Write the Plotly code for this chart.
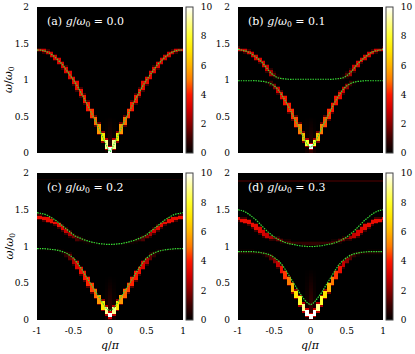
import plotly.graph_objects as go

# ---------------- data ----------------
Q = [-1.0, -0.95, -0.9, -0.85, -0.8, -0.75, -0.7, -0.65, -0.6, -0.55, -0.5,
     -0.45, -0.4, -0.35, -0.3, -0.25, -0.2, -0.15, -0.1, -0.05, 0.0,
     0.05, 0.1, 0.15, 0.2, 0.25, 0.3, 0.35, 0.4, 0.45, 0.5,
     0.55, 0.6, 0.65, 0.7, 0.75, 0.8, 0.85, 0.9, 0.95, 1.0]

# panel (a) g/w0 = 0.0
a_omega = [1.41, 1.41, 1.40, 1.38, 1.35, 1.31, 1.26, 1.21, 1.14, 1.07, 1.00, 0.92, 0.83, 0.74, 0.64, 0.54, 0.44, 0.33, 0.22, 0.11,
           0.02, 0.11, 0.22, 0.33, 0.44, 0.54, 0.64, 0.74, 0.83, 0.92, 1.00, 1.07, 1.14, 1.21, 1.26, 1.31, 1.35, 1.38, 1.40, 1.41, 1.41]
a_int = [3.0, 3.0, 3.0, 3.0, 3.1, 3.1, 3.2, 3.2, 3.3, 3.3, 3.4, 3.5, 3.6, 3.8, 4.0, 4.3, 4.8, 5.5, 7.0, 9.0,
         10.0, 9.0, 7.0, 5.5, 4.8, 4.3, 4.0, 3.8, 3.6, 3.5, 3.4, 3.3, 3.3, 3.2, 3.2, 3.1, 3.1, 3.0, 3.0, 3.0, 3.0]

# panel (b) g/w0 = 0.1
b_lower = [0.99, 0.99, 0.99, 0.99, 0.99, 0.99, 0.985, 0.98, 0.97, 0.95, 0.92, 0.87, 0.80, 0.72, 0.63, 0.53, 0.43, 0.33, 0.22, 0.13,
           0.08, 0.13, 0.22, 0.33, 0.43, 0.53, 0.63, 0.72, 0.80, 0.87, 0.92, 0.95, 0.97, 0.98, 0.985, 0.99, 0.99, 0.99, 0.99, 0.99, 0.99]
b_upper = [1.42, 1.41, 1.40, 1.38, 1.35, 1.31, 1.27, 1.22, 1.16, 1.10, 1.06, 1.03, 1.02, 1.015, 1.01, 1.01, 1.01, 1.01, 1.01, 1.01,
           1.01, 1.01, 1.01, 1.01, 1.01, 1.01, 1.01, 1.015, 1.02, 1.03, 1.06, 1.10, 1.16, 1.22, 1.27, 1.31, 1.35, 1.38, 1.40, 1.41, 1.42]
b_lower_int = [0, 0, 0, 0, 0, 0, 0, 0.1, 0.4, 1.0, 2.0, 3.0, 3.5, 3.8, 4.0, 4.2, 4.5, 5, 6, 8,
               10, 8, 6, 5, 4.5, 4.2, 4.0, 3.8, 3.5, 3.0, 2.0, 1.0, 0.4, 0.1, 0, 0, 0, 0, 0, 0, 0]
b_upper_int = [3.0, 3.0, 3.0, 3.1, 3.1, 3.2, 3.2, 3.2, 3.0, 2.4, 1.4, 0.6, 0.2, 0.05, 0, 0, 0, 0, 0, 0,
               0, 0, 0, 0, 0, 0, 0, 0.05, 0.2, 0.6, 1.4, 2.4, 3.0, 3.2, 3.2, 3.2, 3.1, 3.1, 3.0, 3.0, 3.0]

# panel (c) g/w0 = 0.2
c_green_lower = [0.97, 0.97, 0.97, 0.965, 0.96, 0.955, 0.945, 0.93, 0.91, 0.88, 0.84, 0.78, 0.71, 0.63, 0.55, 0.47, 0.39, 0.31, 0.23, 0.16,
                 0.13, 0.16, 0.23, 0.31, 0.39, 0.47, 0.55, 0.63, 0.71, 0.78, 0.84, 0.88, 0.91, 0.93, 0.945, 0.955, 0.96, 0.965, 0.97, 0.97, 0.97]
c_green_upper = [1.46, 1.45, 1.44, 1.42, 1.39, 1.36, 1.32, 1.28, 1.24, 1.20, 1.16, 1.13, 1.11, 1.09, 1.075, 1.06, 1.05, 1.04, 1.035, 1.03,
                 1.03, 1.03, 1.035, 1.04, 1.05, 1.06, 1.075, 1.09, 1.11, 1.13, 1.16, 1.20, 1.24, 1.28, 1.32, 1.36, 1.39, 1.42, 1.44, 1.45, 1.46]
c_red_lower = [0.97, 0.97, 0.965, 0.96, 0.955, 0.95, 0.94, 0.92, 0.90, 0.86, 0.81, 0.75, 0.68, 0.60, 0.52, 0.44, 0.36, 0.28, 0.20, 0.12,
               0.06, 0.12, 0.20, 0.28, 0.36, 0.44, 0.52, 0.60, 0.68, 0.75, 0.81, 0.86, 0.90, 0.92, 0.94, 0.95, 0.955, 0.96, 0.965, 0.97, 0.97]
c_red_upper = [1.40, 1.40, 1.39, 1.37, 1.35, 1.32, 1.29, 1.25, 1.21, 1.17, 1.14, 1.11, 1.09, 1.075, 1.06, 1.05, 1.04, 1.035, 1.03, 1.03,
               1.03, 1.03, 1.03, 1.035, 1.04, 1.05, 1.06, 1.075, 1.09, 1.11, 1.14, 1.17, 1.21, 1.25, 1.29, 1.32, 1.35, 1.37, 1.39, 1.40, 1.40]
c_lower_int = [0.1, 0.1, 0.1, 0.1, 0.1, 0.1, 0.2, 0.4, 0.8, 1.5, 2.5, 3.2, 3.6, 3.9, 4.1, 4.4, 4.8, 5.5, 7, 9,
               10, 9, 7, 5.5, 4.8, 4.4, 4.1, 3.9, 3.6, 3.2, 2.5, 1.5, 0.8, 0.4, 0.2, 0.1, 0.1, 0.1, 0.1, 0.1, 0.1]
c_upper_int = [3.5, 3.5, 3.5, 3.5, 3.5, 3.5, 3.4, 3.2, 2.9, 2.4, 1.8, 1.2, 0.8, 0.5, 0.3, 0.2, 0.15, 0.1, 0.1, 0.1,
               0.1, 0.1, 0.1, 0.1, 0.15, 0.2, 0.3, 0.5, 0.8, 1.2, 1.8, 2.4, 2.9, 3.2, 3.4, 3.5, 3.5, 3.5, 3.5, 3.5, 3.5]
c_top_omega, c_top_int = 1.91, 0.3

# panel (d) g/w0 = 0.3
d_green_lower = [0.93, 0.93, 0.93, 0.93, 0.93, 0.925, 0.92, 0.91, 0.90, 0.88, 0.85, 0.81, 0.76, 0.69, 0.61, 0.53, 0.45, 0.37, 0.30, 0.24,
                 0.21, 0.24, 0.30, 0.37, 0.45, 0.53, 0.61, 0.69, 0.76, 0.81, 0.85, 0.88, 0.90, 0.91, 0.92, 0.925, 0.93, 0.93, 0.93, 0.93, 0.93]
d_green_upper = [1.50, 1.49, 1.47, 1.44, 1.40, 1.36, 1.31, 1.26, 1.21, 1.17, 1.13, 1.10, 1.075, 1.055, 1.04, 1.03, 1.02, 1.01, 1.005, 1.00,
                 1.00, 1.00, 1.005, 1.01, 1.02, 1.03, 1.04, 1.055, 1.075, 1.10, 1.13, 1.17, 1.21, 1.26, 1.31, 1.36, 1.40, 1.44, 1.47, 1.49, 1.50]
d_red_lower = [0.92, 0.92, 0.92, 0.92, 0.92, 0.915, 0.91, 0.90, 0.88, 0.85, 0.81, 0.76, 0.69, 0.61, 0.53, 0.44, 0.35, 0.26, 0.17, 0.09,
               0.04, 0.09, 0.17, 0.26, 0.35, 0.44, 0.53, 0.61, 0.69, 0.76, 0.81, 0.85, 0.88, 0.90, 0.91, 0.915, 0.92, 0.92, 0.92, 0.92, 0.92]
d_red_upper = [1.38, 1.37, 1.35, 1.33, 1.30, 1.26, 1.22, 1.18, 1.14, 1.12, 1.11, 1.095, 1.08, 1.07, 1.06, 1.055, 1.05, 1.045, 1.04, 1.04,
               1.04, 1.04, 1.04, 1.045, 1.05, 1.055, 1.06, 1.07, 1.08, 1.095, 1.11, 1.12, 1.14, 1.18, 1.22, 1.26, 1.30, 1.33, 1.35, 1.37, 1.38]
d_lower_int = [0.4, 0.4, 0.4, 0.4, 0.4, 0.4, 0.5, 0.6, 0.8, 1.3, 2.0, 2.8, 3.6, 4.3, 5, 6, 7, 8, 9, 10,
               10, 10, 9, 8, 7, 6, 5, 4.3, 3.6, 2.8, 2.0, 1.3, 0.8, 0.6, 0.5, 0.4, 0.4, 0.4, 0.4, 0.4, 0.4]
d_upper_int = [3.5, 3.5, 3.5, 3.5, 3.5, 3.4, 3.3, 3.1, 2.8, 2.4, 2.0, 1.6, 1.3, 1.1, 1.0, 0.9, 0.8, 0.8, 0.8, 0.8,
               0.8, 0.8, 0.8, 0.8, 0.8, 0.9, 1.0, 1.1, 1.3, 1.6, 2.0, 2.4, 2.8, 3.1, 3.3, 3.4, 3.5, 3.5, 3.5, 3.5, 3.5]
d_top_omega, d_top_int = 1.89, 0.7

# faint spectral weight above q = 0 (height, intensity)
glow = {"a": (0.5, 0.8), "b": (0.5, 0.8), "c": (0.6, 1.0), "d": (0.7, 1.2)}

panel_labels = ["(a)", "(b)", "(c)", "(d)"]
g_values = ["0.0", "0.1", "0.2", "0.3"]
x_ticks = [-1, -0.5, 0, 0.5, 1]
x_ticktext = ["-1", "-0.5", "0", "0.5", "1"]
y_ticks = [0, 0.5, 1, 1.5, 2]
y_ticktext = ["0", "0.5", "1", "1.5", "2"]
cb_ticks = [0, 2, 4, 6, 8, 10]

for arr in [a_omega, a_int, b_lower, b_upper, b_lower_int, b_upper_int, c_green_lower, c_green_upper,
            c_red_lower, c_red_upper, c_lower_int, c_upper_int, d_green_lower, d_green_upper,
            d_red_lower, d_red_upper, d_lower_int, d_upper_int]:
    assert len(arr) == len(Q), len(arr)

# ---------------- build heatmap tables ----------------
NROW = 100
W = [0.01 + 0.02 * j for j in range(NROW)]  # omega grid of the map (cell centres)


def empty():
    return [[0.0 for _ in Q] for _ in W]


def paint(Z, omegas, ints):
    n = len(omegas)
    for i in range(n):
        w = omegas[i]
        lo = hi = w
        if i > 0:
            m = (w + omegas[i - 1]) / 2
            lo, hi = min(lo, m), max(hi, m)
        if i < n - 1:
            m = (w + omegas[i + 1]) / 2
            lo, hi = min(lo, m), max(hi, m)
        for j, y in enumerate(W):
            if lo - 0.011 <= y <= hi + 0.011:
                v = ints[i]
            elif lo - 0.03 <= y <= hi + 0.03:
                v = 0.3 * ints[i]
            else:
                continue
            if v > Z[j][i]:
                Z[j][i] = v


def paint_flat(Z, omega, val):
    for j, y in enumerate(W):
        if abs(y - omega) <= 0.011:
            for i in range(len(Q)):
                Z[j][i] = max(Z[j][i], val)


def paint_glow(Z, key):
    h, val = glow[key]
    i0 = Q.index(0.0)
    for j, y in enumerate(W):
        if y <= h:
            f = val * (1 - y / h)
            for i, k in ((i0, 1.0), (i0 - 1, 0.35), (i0 + 1, 0.35)):
                Z[j][i] = max(Z[j][i], f * k)


Za = empty(); paint_glow(Za, "a"); paint(Za, a_omega, a_int)
Zb = empty(); paint_glow(Zb, "b"); paint(Zb, b_lower, b_lower_int); paint(Zb, b_upper, b_upper_int)
Zc = empty(); paint_glow(Zc, "c"); paint(Zc, c_red_lower, c_lower_int); paint(Zc, c_red_upper, c_upper_int)
paint_flat(Zc, c_top_omega, c_top_int)
Zd = empty(); paint_glow(Zd, "d"); paint(Zd, d_red_lower, d_lower_int); paint(Zd, d_red_upper, d_upper_int)
paint_flat(Zd, d_top_omega, d_top_int)

maps = [Za, Zb, Zc, Zd]
greens = [[a_omega], [b_lower, b_upper], [c_green_lower, c_green_upper], [d_green_lower, d_green_upper]]

# ---------------- figure ----------------
FW, FH = 415, 354
SERIF = "DejaVu Serif"
colorscale = [[0.0, "#000000"], [0.1, "#3c0000"], [0.2, "#8a0000"], [0.3, "#d20000"],
              [0.4, "#ff1800"], [0.5, "#ff7a00"], [0.6, "#ffb400"], [0.7, "#ffe400"],
              [0.8, "#ffff2a"], [0.9, "#ffff90"], [1.0, "#ffffff"]]

# pixel boxes of the four plot areas: (x0, x1, y0, y1) with y from top
boxes = [(37, 183, 7, 153), (238, 383, 7, 153), (37, 183, 173, 320), (238, 383, 173, 320)]

fig = go.Figure()
layout = dict(width=FW, height=FH, margin=dict(l=0, r=0, t=0, b=0, autoexpand=False),
              paper_bgcolor="white", plot_bgcolor="black", showlegend=False,
              font=dict(family=SERIF, size=9, color="black"))
annotations = []

for k in range(4):
    x0, x1, y0, y1 = boxes[k]
    sx = "" if k == 0 else str(k + 1)
    xa, ya, ca = "x" + sx, "y" + sx, "coloraxis" + sx
    fig.add_trace(go.Heatmap(x=Q, y=W, z=maps[k], coloraxis=ca, xaxis=xa, yaxis=ya,
                             hoverinfo="skip"))
    for gline in greens[k]:
        fig.add_trace(go.Scatter(x=Q, y=gline, mode="lines", xaxis=xa, yaxis=ya,
                                 line=dict(color="#35dc35", width=1.2, dash="1.5px,1px", shape="spline"),
                                 hoverinfo="skip"))
    bottom = k >= 2
    layout["xaxis" + sx] = dict(domain=[x0 / FW, x1 / FW], range=[-1, 1], anchor=ya,
                                showgrid=False, zeroline=False, showline=False,
                                tickvals=x_ticks, ticktext=x_ticktext, showticklabels=bottom,
                                ticks="", ticklabelstandoff=4,
                                tickfont=dict(family=SERIF, size=9, color="black"))
    layout["yaxis" + sx] = dict(domain=[1 - y1 / FH, 1 - y0 / FH], range=[0, 2], anchor=xa,
                                showgrid=False, zeroline=False, showline=False,
                                tickvals=y_ticks, ticktext=y_ticktext, ticks="",
                                ticklabelstandoff=7,
                                tickfont=dict(family=SERIF, size=9, color="black"))
    layout[ca] = dict(cmin=0, cmax=10, colorscale=colorscale,
                      colorbar=dict(x=(x1 + 3) / FW, xanchor="left",
                                    y=1 - (y0 + y1) / 2 / FH, yanchor="middle",
                                    len=(y1 - y0) / FH, lenmode="fraction",
                                    thickness=7, thicknessmode="pixels", xpad=0, ypad=0,
                                    outlinewidth=1, outlinecolor="#444444",
                                    tickvals=cb_ticks, ticks="outside", ticklen=6,
                                    tickcolor="rgba(0,0,0,0)",
                                    tickfont=dict(family=SERIF, size=9, color="black")))
    annotations.append(dict(xref=xa, yref=ya, x=-0.89, y=1.79, xanchor="left", yanchor="middle",
                            showarrow=False,
                            text=f"{panel_labels[k]} <i>g</i>/<i>ω</i><sub>0</sub> = {g_values[k]}",
                            font=dict(family=SERIF, size=11, color="white")))
    if k % 2 == 0:
        annotations.append(dict(xref="paper", yref="paper", x=9 / FW, y=1 - (y0 + y1) / 2 / FH,
                                xanchor="center", yanchor="middle", textangle=-90, showarrow=False,
                                text="<i>ω</i>/<i>ω</i><sub>0</sub>",
                                font=dict(family=SERIF, size=11, color="black")))
    if bottom:
        annotations.append(dict(xref="paper", yref="paper", x=(x0 + x1) / 2 / FW, y=1 - 345 / FH,
                                xanchor="center", yanchor="middle", showarrow=False,
                                text="<i>q</i>/<i>π</i>",
                                font=dict(family=SERIF, size=11, color="black")))

layout["annotations"] = annotations
fig.update_layout(**layout)
fig.write_html("out.html", config={"displayModeBar": False},
               post_script="document.body.style.margin='0';")
